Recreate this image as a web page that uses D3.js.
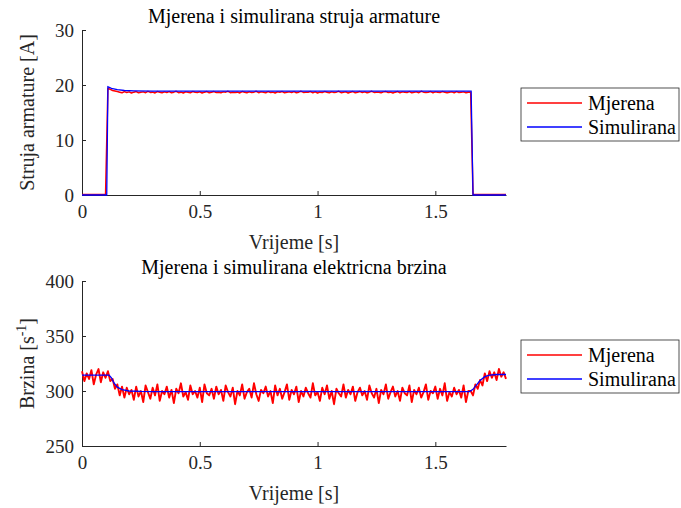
<!DOCTYPE html>
<html lang="hr">
    <head>
        <meta charset="utf-8">
        <title>Mjerena i simulirana struja i brzina</title>
        <script type="text/javascript" src="https://d3js.org/d3.v7.min.js"></script>
        <style>
            body { margin: 0; background: #ffffff; }
            svg text { font-family: "Liberation Serif", "Times New Roman", serif !important; }
        </style>
    </head>
    <body>
        <div id="chart"></div>
        <script type="text/javascript">
            // vremenski korak mjerenja
            const dt = 0.01;
            const xTicks = [0, 0.5, 1, 1.5];

            // mjerena struja armature [A], t = 0 ... 1.8 s
            const measCurrent = [
                0.1, 0.1, 0.1, 0.1, 0.1, 0.1, 0.1, 0.1, 0.1, 0.1, 0.1,
                19.4, 19.2, 19.0, 18.9, 18.8,
                18.7, 18.6, 18.8, 18.65, 18.75, 18.55, 18.7, 18.8, 18.6, 18.7,
                18.75, 18.6, 18.85, 18.65, 18.7, 18.55, 18.8, 18.7, 18.6, 18.75,
                18.65, 18.8, 18.6, 18.7, 18.85, 18.6, 18.7, 18.55, 18.75, 18.7,
                18.6, 18.8, 18.7, 18.65, 18.75, 18.55, 18.7, 18.8, 18.6, 18.7,
                18.8, 18.65, 18.7, 18.6, 18.75, 18.7, 18.85, 18.6, 18.7, 18.65,
                18.7, 18.55, 18.8, 18.7, 18.6, 18.75, 18.65, 18.7, 18.85, 18.6,
                18.75, 18.7, 18.6, 18.8, 18.65, 18.7, 18.55, 18.75, 18.7, 18.8,
                18.6, 18.7, 18.75, 18.65, 18.8, 18.6, 18.7, 18.85, 18.65, 18.7,
                18.7, 18.8, 18.6, 18.75, 18.55, 18.7, 18.65, 18.8, 18.7, 18.6,
                18.75, 18.65, 18.7, 18.85, 18.6, 18.7, 18.75, 18.55, 18.7, 18.8,
                18.6, 18.7, 18.8, 18.65, 18.75, 18.6, 18.7, 18.85, 18.65, 18.7,
                18.7, 18.6, 18.75, 18.8, 18.65, 18.7, 18.55, 18.7, 18.8, 18.6,
                18.75, 18.7, 18.65, 18.8, 18.6, 18.7, 18.75, 18.6, 18.85, 18.7,
                18.65, 18.7, 18.8, 18.6, 18.75, 18.7, 18.65, 18.8, 18.7, 18.6,
                18.7, 18.75, 18.6, 18.8, 18.65, 18.7, 18.75, 18.6, 18.7, 18.7,
                0.1, 0.1, 0.1, 0.1, 0.1, 0.1, 0.1, 0.1, 0.1, 0.1, 0.1, 0.1, 0.1, 0.1, 0.1
            ];

            // simulirana struja armature (prijelomne tocke)
            const simTimeI = [0, 0.105, 0.11, 0.125, 0.15, 0.18, 0.22, 0.3, 1.652, 1.66, 1.8];
            const simCurrent = [0, 0, 19.7, 19.4, 19.15, 19.0, 18.95, 18.9, 18.9, 0, 0];

            // mjerena elektricna brzina [1/s], t = 0 ... 1.8 s
            const measSpeed = [
                318, 309, 316, 311, 319, 306, 315, 320, 308, 317, 312, 318,
                309, 311, 302, 306, 296, 304, 294, 303, 297, 301, 292, 304, 295, 300, 290, 305,
                299, 293, 303, 296, 306, 291, 300, 297, 304, 294,
                301, 289, 302, 298, 307, 295, 299, 292, 305, 297,
                300, 294, 303, 290, 306, 298, 296, 302, 293, 304,
                297, 301, 291, 305, 299, 295, 303, 288, 300, 296,
                306, 293, 299, 302, 294, 307, 297, 291, 301, 298,
                304, 295, 300, 289, 305, 296, 302, 293, 299, 306,
                292, 301, 297, 304, 290, 300, 295, 303, 298, 294,
                307, 296, 299, 291, 303, 297, 305, 293, 300, 288,
                302, 298, 295, 306, 294, 301, 297, 304, 291, 299,
                303, 296, 300, 292, 305, 298, 294, 302, 289, 301,
                297, 306, 293, 299, 304, 295, 300, 291, 303, 298,
                296, 305, 290, 301, 297, 303, 294, 299, 306, 292,
                300, 298, 304, 293, 302, 296, 307, 291, 299, 295,
                303, 297, 301, 294, 305, 290, 300,
                300, 296, 306, 302, 310, 305, 316, 309, 318, 312, 317, 310, 320, 313, 317, 311
            ];

            // simulirana brzina (prijelomne tocke)
            const simTimeW = [0, 0.115, 0.125, 0.135, 0.15, 0.17, 0.2, 0.25, 0.3, 1.645, 1.66, 1.675, 1.69, 1.71, 1.73, 1.76, 1.8];
            const simSpeed = [314.5, 314.5, 312, 307.5, 303.5, 301.2, 300, 299.6, 299.5, 299.5, 301.5, 305.5, 309.5, 313, 314.5, 315, 315];

            const width = 681, height = 508;
            const axisColor = "#262626";
            const serif = "Liberation Serif";
            const svg = d3.select("#chart").append("svg").attr("width", width).attr("height", height)
                .attr("font-family", serif);

            function drawPanel(cfg) {
                const xScale = d3.scaleLinear().domain([0, 1.8]).range([82, 506]);
                const yScale = d3.scaleLinear().domain(cfg.yDomain).range([cfg.bottom, cfg.top]);
                const g = svg.append("g");

                // osi
                const xAxis = g.append("g").attr("transform", `translate(0,${cfg.bottom})`)
                    .call(d3.axisBottom(xScale).tickValues(xTicks).tickSizeInner(-4).tickSizeOuter(0).tickFormat(d3.format("")));
                const yAxis = g.append("g").attr("transform", "translate(82,0)")
                    .call(d3.axisLeft(yScale).tickValues(cfg.yTicks).tickSizeInner(-4).tickSizeOuter(0));
                [xAxis, yAxis].forEach(a => {
                    a.attr("font-family", serif).attr("font-size", 19);
                    a.select(".domain").attr("stroke", axisColor);
                    a.selectAll(".tick line").attr("stroke", axisColor);
                    a.selectAll(".tick text").attr("fill", axisColor);
                });
                xAxis.selectAll(".tick text").attr("y", 10).attr("dy", "0.71em");
                yAxis.selectAll(".tick text").attr("x", -8);

                // podaci
                const measLine = d3.line().x((d, i) => xScale(i * dt)).y(d => yScale(d));
                const simLine = d3.line().x(d => xScale(d[0])).y(d => yScale(d[1]));
                g.append("path").datum(cfg.meas).attr("fill", "none").attr("stroke", "#ff0000")
                    .attr("stroke-width", cfg.measWidth).attr("stroke-linejoin", "round").attr("d", measLine);
                g.append("path").datum(d3.zip(cfg.simT, cfg.sim)).attr("fill", "none").attr("stroke", "#0000ff")
                    .attr("stroke-width", 1.3).attr("d", simLine);

                // naslovi
                g.append("text").attr("x", 294).attr("y", cfg.top - 7).attr("text-anchor", "middle")
                    .attr("font-size", 20).attr("fill", "#000").text(cfg.title);
                g.append("text").attr("x", 294).attr("y", cfg.bottom + 54).attr("text-anchor", "middle")
                    .attr("font-size", 20).attr("fill", axisColor).text("Vrijeme [s]");
                const yl = g.append("text").attr("transform", `translate(34,${(cfg.top + cfg.bottom) / 2}) rotate(-90)`)
                    .attr("text-anchor", "middle").attr("font-size", 20).attr("fill", axisColor);
                cfg.yLabel(yl);

                // legenda
                const lg = g.append("g").attr("transform", `translate(521,${cfg.legendTop})`);
                lg.append("rect").attr("x", 0).attr("y", 0).attr("width", 158).attr("height", 53)
                    .attr("fill", "#fff").attr("stroke", axisColor).attr("stroke-width", 0.8);
                [["Mjerena", "#ff0000", 15], ["Simulirana", "#0000ff", 39]].forEach(([name, col, yy]) => {
                    lg.append("line").attr("x1", 6).attr("x2", 61).attr("y1", yy).attr("y2", yy)
                        .attr("stroke", col).attr("stroke-width", 1.3);
                    lg.append("text").attr("x", 67).attr("y", yy + 7).attr("font-size", 20)
                        .attr("fill", "#000").text(name);
                });
            }

            drawPanel({
                top: 30, bottom: 195, yDomain: [0, 30], yTicks: [0, 10, 20, 30],
                meas: measCurrent, simT: simTimeI, sim: simCurrent, measWidth: 1.5,
                title: "Mjerena i simulirana struja armature",
                yLabel: t => t.text("Struja armature [A]"),
                legendTop: 88
            });
            drawPanel({
                top: 281, bottom: 446, yDomain: [250, 400], yTicks: [250, 300, 350, 400],
                meas: measSpeed, simT: simTimeW, sim: simSpeed, measWidth: 1.9,
                title: "Mjerena i simulirana elektricna brzina",
                yLabel: t => {
                    t.append("tspan").text("Brzina [s");
                    t.append("tspan").attr("font-size", 14).attr("dy", -8).text("-1");
                    t.append("tspan").attr("dy", 8).text("]");
                },
                legendTop: 340
            });
        </script>
    </body>
</html>
